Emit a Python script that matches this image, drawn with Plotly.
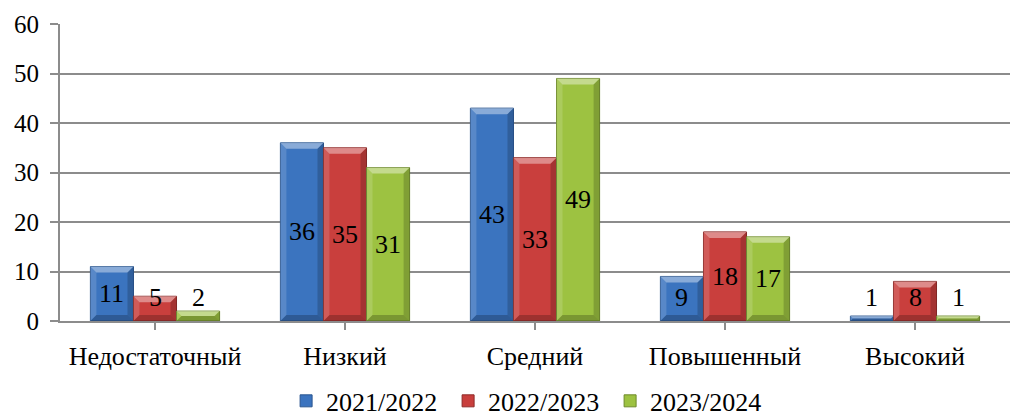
import plotly.graph_objects as go

categories = ["Недостаточный", "Низкий", "Средний", "Повышенный", "Высокий"]
series_names = ["2021/2022", "2022/2023", "2023/2024"]
v2122 = [11, 36, 43, 9, 1]
v2223 = [5, 35, 33, 18, 8]
v2324 = [2, 31, 49, 17, 1]

values = [v2122, v2223, v2324]
colors = ["#3B74BF", "#C93F3D", "#9DC241"]
line_colors = ["#2A568F", "#8E2A28", "#6E8A2A"]

FONT = "Liberation Serif"
BARGAP = 0.32
W, H = 1016, 417
ML, MR, MT, MB = 60, 6, 24, 96
YMAX = 60

fig = go.Figure()
for name, vals, c, lc in zip(series_names, values, colors, line_colors):
    fig.add_trace(go.Bar(
        x=list(range(len(categories))), y=vals, name=name,
        marker=dict(color=c, line=dict(color=lc, width=1)),
        hoverinfo="skip",
    ))

# bevel highlights derived from the data through the axis scales
px_x = (W - ML - MR) / len(categories)
px_y = (H - MT - MB) / YMAX
bw = (1 - BARGAP) / len(values)
for j, vals in enumerate(values):
    off = (j - (len(values) - 1) / 2) * bw
    for i, v in enumerate(vals):
        x0, x1 = i + off - bw / 2, i + off + bw / 2
        b = min(6.0, v * px_y / 2)
        dx, dy = b / px_x, b / px_y
        top = v
        shapes = [
            (f"M{x0},{top} L{x1},{top} L{x1-dx},{top-dy} L{x0+dx},{top-dy} Z", "rgba(255,255,255,0.40)"),
            (f"M{x0},{top} L{x0+dx},{top-dy} L{x0+dx},{dy} L{x0},0 Z", "rgba(255,255,255,0.15)"),
            (f"M{x1},{top} L{x1-dx},{top-dy} L{x1-dx},{dy} L{x1},0 Z", "rgba(0,0,0,0.18)"),
            (f"M{x0},0 L{x0+dx},{dy} L{x1-dx},{dy} L{x1},0 Z", "rgba(0,0,0,0.22)"),
        ]
        for path, fc in shapes:
            fig.add_shape(type="path", path=path, xref="x", yref="y",
                          fillcolor=fc, line=dict(width=0), layer="above")
        fig.add_annotation(
            x=i + off, y=max(v / 2, 4.8), xref="x", yref="y",
            text=str(v), showarrow=False,
            font=dict(family=FONT, size=26, color="black"),
        )

grid = "#8C8C8C"
fig.update_layout(
    width=W, height=H,
    margin=dict(l=ML, r=MR, t=MT, b=MB, autoexpand=False),
    paper_bgcolor="white", plot_bgcolor="white",
    barmode="group", bargap=BARGAP, bargroupgap=0,
    font=dict(family=FONT, size=24, color="black"),
    showlegend=True,
    legend=dict(orientation="h", x=0.238, xanchor="left", y=-0.19, yanchor="top",
                font=dict(family=FONT, size=26), itemwidth=30, traceorder="normal",
                entrywidth=117, entrywidthmode="pixels"),
    xaxis=dict(
        tickmode="array", tickvals=list(range(len(categories))), ticktext=categories,
        range=[-0.5, len(categories) - 0.5], automargin=False,
        showline=True, linecolor=grid, linewidth=2,
        ticks="outside", tickson="boundaries", ticklen=7, tickcolor=grid, tickwidth=2,
        showgrid=False, ticklabelstandoff=4,
        tickfont=dict(family=FONT, size=26),
    ),
    yaxis=dict(
        range=[0, YMAX], dtick=10, tick0=0, automargin=False,
        showgrid=True, gridcolor=grid, gridwidth=2,
        showline=True, linecolor=grid, linewidth=2,
        ticks="outside", ticklen=8, tickcolor=grid, tickwidth=2,
        zeroline=False, ticklabelstandoff=6,
        tickfont=dict(family=FONT, size=25),
    ),
)

fig.write_html("out.html", config={"displayModeBar": False},
               post_script="document.body.style.margin='0';document.body.style.padding='0';")
